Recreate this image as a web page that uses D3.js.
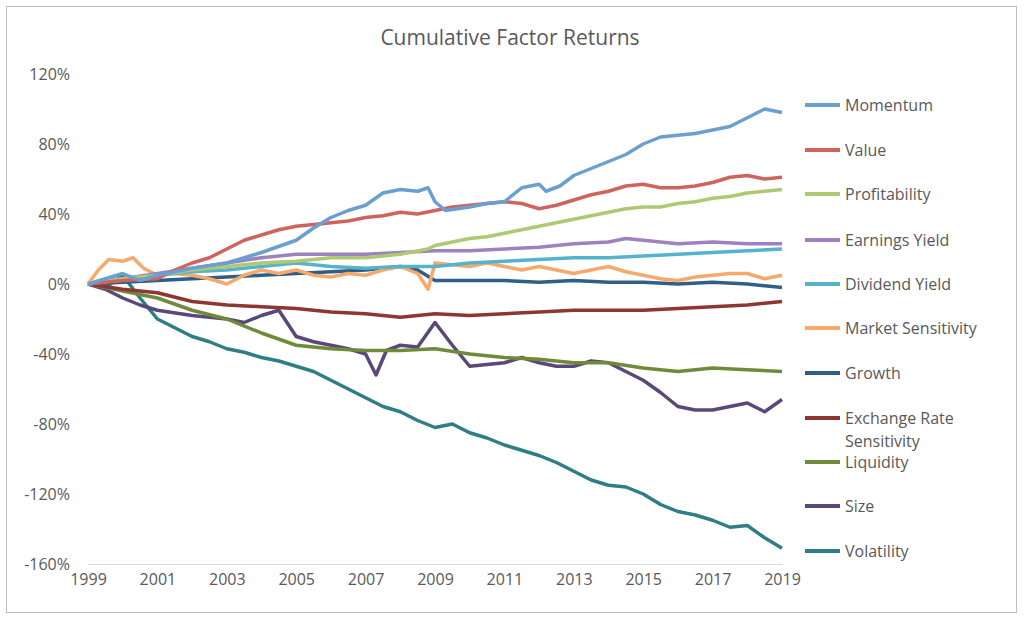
<!DOCTYPE html>
<html><head><meta charset="utf-8">
<script src="https://cdn.jsdelivr.net/npm/d3@7"></script>
<style>body{margin:0;background:#fff;font-family:"Open Sans",sans-serif}</style>
</head><body><div id="chart"></div>
<script>
// [year, cumulative return %]
const momentum = [[1999,0],[1999.5,3],[2000,6],[2000.5,2],[2001,5],[2002,9],[2003,12],[2004,18],[2005,25],[2005.5,32],[2006,38],[2006.5,42],[2007,45],[2007.5,52],[2008,54],[2008.5,53],[2008.8,55],[2009,47],[2009.3,42],[2010,44],[2010.5,46],[2011,47],[2011.5,55],[2012,57],[2012.2,53],[2012.6,56],[2013,62],[2013.5,66],[2014,70],[2014.5,74],[2015,80],[2015.5,84],[2016,85],[2016.5,86],[2017,88],[2017.5,90],[2018,95],[2018.5,100],[2019,98]];
const value = [[1999,0],[2000,2],[2001,3],[2001.5,8],[2002,12],[2002.5,15],[2003,20],[2003.5,25],[2004,28],[2004.5,31],[2005,33],[2006,35],[2006.5,36],[2007,38],[2007.5,39],[2008,41],[2008.5,40],[2009,42],[2009.5,44],[2010,45],[2011,47],[2011.5,46],[2012,43],[2012.5,45],[2013,48],[2013.5,51],[2014,53],[2014.5,56],[2015,57],[2015.5,55],[2016,55],[2016.5,56],[2017,58],[2017.5,61],[2018,62],[2018.5,60],[2019,61]];
const profitability = [[1999,0],[2000,3],[2001,5],[2002,8],[2003,10],[2004,12],[2005,13],[2006,15],[2007,15],[2008,17],[2008.8,20],[2009,22],[2009.5,24],[2010,26],[2010.5,27],[2011,29],[2011.5,31],[2012,33],[2012.5,35],[2013,37],[2013.5,39],[2014,41],[2014.5,43],[2015,44],[2015.5,44],[2016,46],[2016.5,47],[2017,49],[2017.5,50],[2018,52],[2018.5,53],[2019,54]];
const earningsYield = [[1999,0],[2000,3],[2001,6],[2002,9],[2003,12],[2004,15],[2005,17],[2006,17],[2007,17],[2008,18],[2009,19],[2010,19],[2011,20],[2012,21],[2013,23],[2014,24],[2014.5,26],[2015,25],[2016,23],[2017,24],[2018,23],[2019,23]];
const dividendYield = [[1999,0],[2000,3],[2001,5],[2002,7],[2003,8],[2004,10],[2005,12],[2006,10],[2007,9],[2008,10],[2009,10],[2010,12],[2011,13],[2012,14],[2013,15],[2014,15],[2015,16],[2016,17],[2017,18],[2018,19],[2019,20]];
const marketSensitivity = [[1999,0],[1999.3,8],[1999.6,14],[2000,13],[2000.3,15],[2000.6,9],[2001,5],[2001.5,6],[2002,5],[2002.5,3],[2003,0],[2003.5,5],[2004,8],[2004.5,6],[2005,8],[2005.5,5],[2006,4],[2006.5,6],[2007,5],[2007.5,8],[2008,10],[2008.5,6],[2008.8,-3],[2009,12],[2009.5,11],[2010,10],[2010.5,12],[2011,10],[2011.5,8],[2012,10],[2012.5,8],[2013,6],[2013.5,8],[2014,10],[2014.5,7],[2015,5],[2015.5,3],[2016,2],[2016.5,4],[2017,5],[2017.5,6],[2018,6],[2018.5,3],[2019,5]];
const growth = [[1999,0],[2000,1],[2001,2],[2002,3],[2003,4],[2004,5],[2005,6],[2006,7],[2007,8],[2008,10],[2008.5,8],[2009,2],[2010,2],[2011,2],[2012,1],[2013,2],[2014,1],[2015,1],[2016,0],[2017,1],[2018,0],[2019,-2]];
const exchangeRate = [[1999,0],[2000,-3],[2001,-5],[2002,-10],[2003,-12],[2004,-13],[2005,-14],[2006,-16],[2007,-17],[2008,-19],[2009,-17],[2010,-18],[2011,-17],[2012,-16],[2013,-15],[2014,-15],[2015,-15],[2016,-14],[2017,-13],[2018,-12],[2019,-10]];
const liquidity = [[1999,0],[2000,-4],[2001,-8],[2002,-15],[2003,-20],[2004,-28],[2005,-35],[2006,-37],[2007,-38],[2008,-38],[2009,-37],[2010,-40],[2011,-42],[2012,-43],[2013,-45],[2014,-45],[2015,-48],[2016,-50],[2017,-48],[2018,-49],[2019,-50]];
const size = [[1999,0],[1999.5,-3],[2000,-8],[2000.5,-12],[2001,-15],[2002,-18],[2003,-20],[2003.5,-22],[2004,-18],[2004.5,-15],[2005,-30],[2005.5,-33],[2006,-35],[2006.5,-37],[2007,-40],[2007.3,-52],[2007.6,-38],[2008,-35],[2008.5,-36],[2009,-22],[2009.5,-35],[2010,-47],[2010.5,-46],[2011,-45],[2011.5,-42],[2012,-45],[2012.5,-47],[2013,-47],[2013.5,-44],[2014,-45],[2014.5,-50],[2015,-55],[2015.5,-62],[2016,-70],[2016.5,-72],[2017,-72],[2017.5,-70],[2018,-68],[2018.5,-73],[2019,-66]];
const volatility = [[1999,0],[1999.5,-2],[2000,5],[2000.5,-8],[2001,-20],[2001.5,-25],[2002,-30],[2002.5,-33],[2003,-37],[2003.5,-39],[2004,-42],[2004.5,-44],[2005,-47],[2005.5,-50],[2006,-55],[2006.5,-60],[2007,-65],[2007.5,-70],[2008,-73],[2008.5,-78],[2009,-82],[2009.5,-80],[2010,-85],[2010.5,-88],[2011,-92],[2011.5,-95],[2012,-98],[2012.5,-102],[2013,-107],[2013.5,-112],[2014,-115],[2014.5,-116],[2015,-120],[2015.5,-126],[2016,-130],[2016.5,-132],[2017,-135],[2017.5,-139],[2018,-138],[2018.5,-145],[2019,-151]];

const seriesNames = ["Momentum","Value","Profitability","Earnings Yield","Dividend Yield","Market Sensitivity","Growth","Exchange Rate Sensitivity","Liquidity","Size","Volatility"];
const seriesData = [momentum,value,profitability,earningsYield,dividendYield,marketSensitivity,growth,exchangeRate,liquidity,size,volatility];
const seriesColors = ["#6A9FD0","#CF635E","#AFC872","#9E81C0","#56B3CC","#F5A96A","#2F5E86","#8E3631","#6F8B3A","#5A4878","#2E7E88"];
const yTicks = [120,80,40,0,-40,-80,-120,-160];
const xTicks = [1999,2001,2003,2005,2007,2009,2011,2013,2015,2017,2019];

const W = 1024, H = 620;
const svg = d3.select("#chart").append("svg").attr("width", W).attr("height", H);
svg.append("rect").attr("x", 6.5).attr("y", 6.5).attr("width", 1010).attr("height", 606)
  .attr("fill", "#fff").attr("stroke", "#bfbfbf");

const x = d3.scaleLinear().domain([1999, 2019]).range([88, 782]);
const y = d3.scaleLinear().domain([-160, 120]).range([564, 74]);

svg.append("text").attr("x", 510).attr("y", 45).attr("text-anchor", "middle")
  .style("font-size", "21px").attr("fill", "#595959").text("Cumulative Factor Returns");

svg.append("g").attr("transform", "translate(88,0)")
  .call(d3.axisLeft(y).tickValues(yTicks).tickSize(0).tickPadding(18).tickFormat(d => d + "%"))
  .call(g => g.select(".domain").remove())
  .selectAll("text").style("font-size", "16px").attr("fill", "#595959").style("font-family", "Open Sans");

svg.append("g").attr("transform", `translate(0,${y(-160)})`)
  .call(d3.axisBottom(x).tickValues(xTicks).tickSize(0).tickPadding(10).tickFormat(d3.format("d")))
  .call(g => g.select(".domain").attr("stroke", "#d9d9d9"))
  .selectAll("text").style("font-size", "16px").attr("fill", "#595959").style("font-family", "Open Sans");

const line = d3.line().x(d => x(d[0])).y(d => y(d[1])).curve(d3.curveLinear);

// draw bottom-to-top so Momentum ends up on top
seriesData.slice().reverse().forEach((data, i) => {
  const k = seriesData.length - 1 - i;
  svg.append("path").datum(data).attr("d", line)
    .attr("fill", "none").attr("stroke", seriesColors[k]).attr("stroke-width", 3.5)
    .attr("stroke-linejoin", "round");
});

const legendY = [105,150,194,240,284,328,373,418,462,506,551];
seriesNames.forEach((name, i) => {
  const g = svg.append("g").attr("transform", `translate(805,${legendY[i]})`);
  g.append("line").attr("x1", 0).attr("x2", 35).attr("stroke", seriesColors[i]).attr("stroke-width", 4);
  const t = g.append("text").attr("x", 40).attr("y", 6).style("font-size", "16px").attr("fill", "#595959");
  if (name === "Exchange Rate Sensitivity") {
    t.text("Exchange Rate");
    g.append("text").attr("x", 40).attr("y", 29).style("font-size", "16px").attr("fill", "#595959").text("Sensitivity");
  } else t.text(name);
});
</script></body></html>
